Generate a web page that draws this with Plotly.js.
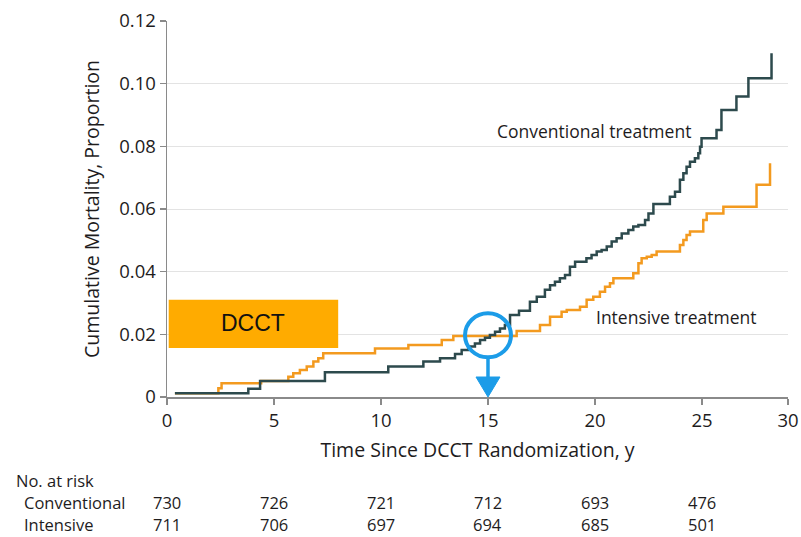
<!DOCTYPE html>
<html>
<head>
<meta charset="utf-8">
<script src="https://cdn.plot.ly/plotly-3.0.1.min.js"></script>
<style>html,body{margin:0;padding:0;background:#fff;}#chart{width:801px;height:537px;}</style>
</head>
<body>
<div id="chart"></div>
<script>
// Conventional treatment: step times (years) and cumulative mortality
const convTime = [0.37, 3.8, 4.35, 7.38, 10.34, 11.98, 12.76, 13.46, 13.77, 14.08, 14.39, 14.63, 14.86, 15.09, 15.33, 15.56, 15.79, 16.03, 16.45, 16.96, 17.28, 17.66, 17.9, 18.13, 18.36, 18.6, 18.83, 19.07, 19.6, 19.84, 20.08, 20.31, 20.55, 20.78, 21.01, 21.25, 21.56, 21.79, 22.03, 22.34, 22.5, 22.73, 23.5, 23.74, 23.97, 24.13, 24.28, 24.44, 24.67, 24.83, 24.91, 24.98, 25.68, 25.91, 26.61, 27.17, 28.25, 28.25];
const convValue = [0.0012, 0.0026, 0.0051, 0.0079, 0.0097, 0.0113, 0.0124, 0.0137, 0.0150, 0.0161, 0.0171, 0.0182, 0.0189, 0.0198, 0.0208, 0.0219, 0.0230, 0.0262, 0.0275, 0.0304, 0.0320, 0.0342, 0.0357, 0.0368, 0.0379, 0.0389, 0.0416, 0.0432, 0.0443, 0.0453, 0.0464, 0.0469, 0.0480, 0.0496, 0.0507, 0.0522, 0.0533, 0.0544, 0.0549, 0.0565, 0.0586, 0.0616, 0.0639, 0.0655, 0.0693, 0.0714, 0.0735, 0.0751, 0.0762, 0.0778, 0.0799, 0.0826, 0.0852, 0.0916, 0.0959, 0.1017, 0.1097, 0.1097];
// Intensive treatment
const intTime = [0.37, 2.4, 2.55, 4.4, 5.67, 5.9, 6.21, 6.53, 6.84, 7.07, 7.3, 9.72, 11.28, 12.84, 13.38, 16.34, 17.43, 17.9, 18.44, 18.68, 19.3, 19.61, 19.92, 20.23, 20.47, 20.7, 20.86, 21.79, 22.03, 22.18, 22.42, 22.65, 22.88, 23.97, 24.13, 24.28, 24.44, 25.06, 25.22, 26.0, 27.55, 28.18, 28.18];
const intValue = [0.0012, 0.0028, 0.0044, 0.0051, 0.0065, 0.0076, 0.0086, 0.0097, 0.0113, 0.0124, 0.0140, 0.0155, 0.0166, 0.0182, 0.0195, 0.0211, 0.0230, 0.0256, 0.0272, 0.0278, 0.0288, 0.0310, 0.0320, 0.0336, 0.0352, 0.0363, 0.0379, 0.0395, 0.0427, 0.0443, 0.0448, 0.0453, 0.0464, 0.0485, 0.0501, 0.0517, 0.0528, 0.0565, 0.0586, 0.0607, 0.0677, 0.0746, 0.0746];

// Axis ticks
const xTickVals = [0, 5, 10, 15, 20, 25, 29.02];
const xTickText = ['0', '5', '10', '15', '20', '25', '30'];
const yTickVals = [0, 0.02, 0.04, 0.06, 0.08, 0.10, 0.12];
const yTickText = ['0', '0.02', '0.04', '0.06', '0.08', '0.10', '0.12'];

// Number at risk table
const riskTimes = [0, 5, 10, 15, 20, 25];
const riskConv = [730, 726, 721, 712, 693, 476];
const riskInt = [711, 706, 697, 694, 685, 501];

const FONT = 'Open Sans, sans-serif';
const TXT = '#1e1c1d';
const DARK = '#2d4a4d';
const ORANGE = '#f39a1f';
const BLUE = '#1c9ce8';
const AXIS = '#8a8a8a';

const traces = [
  {x: intTime, y: intValue, type: 'scatter', mode: 'lines', line: {shape: 'hv', color: ORANGE, width: 2.5}, name: 'Intensive', hoverinfo: 'skip'},
  {x: convTime, y: convValue, type: 'scatter', mode: 'lines', line: {shape: 'hv', color: DARK, width: 2.5}, name: 'Conventional', hoverinfo: 'skip'}
];

const TBL = 16.5;
const ROW0 = -0.2234, ROW1 = -0.2819, ROW2 = -0.3404;
const annotations = [
  {text: 'Conventional treatment', x: 15.35, y: 0.0848, xref: 'x', yref: 'y', xanchor: 'left', yanchor: 'middle', showarrow: false, font: {family: FONT, size: 17.5, color: TXT}},
  {text: 'Intensive treatment', x: 19.95, y: 0.0255, xref: 'x', yref: 'y', xanchor: 'left', yanchor: 'middle', showarrow: false, font: {family: FONT, size: 17.5, color: TXT}},
  {text: 'DCCT', x: 4.0, y: 0.0235, xref: 'x', yref: 'y', xanchor: 'center', yanchor: 'middle', showarrow: false, font: {family: 'Liberation Sans, Arial, sans-serif', size: 23, color: '#111'}},
  {text: 'No. at risk', x: -0.2464, y: ROW0, xref: 'paper', yref: 'paper', xanchor: 'left', yanchor: 'middle', showarrow: false, font: {family: FONT, size: TBL, color: TXT}},
  {text: 'Conventional', x: -0.2335, y: ROW1, xref: 'paper', yref: 'paper', xanchor: 'left', yanchor: 'middle', showarrow: false, font: {family: FONT, size: TBL, color: TXT}},
  {text: 'Intensive', x: -0.2335, y: ROW2, xref: 'paper', yref: 'paper', xanchor: 'left', yanchor: 'middle', showarrow: false, font: {family: FONT, size: TBL, color: TXT}}
];
riskTimes.forEach((t, i) => {
  annotations.push({text: String(riskConv[i]), x: t, y: ROW1, xref: 'x', yref: 'paper', xanchor: 'center', yanchor: 'middle', showarrow: false, font: {family: FONT, size: TBL, color: TXT}});
  annotations.push({text: String(riskInt[i]), x: t, y: ROW2, xref: 'x', yref: 'paper', xanchor: 'center', yanchor: 'middle', showarrow: false, font: {family: FONT, size: TBL, color: TXT}});
});

const shapes = [
  // DCCT label box
  {type: 'rect', xref: 'x', yref: 'y', x0: 0.08, x1: 8.0, y0: 0.0156, y1: 0.031, fillcolor: '#ffab00', line: {width: 0}, layer: 'above'},
  // highlight circle at 15 years
  {type: 'circle', xref: 'x', yref: 'y', xsizemode: 'pixel', ysizemode: 'pixel', xanchor: 15, yanchor: 0.0197, x0: -23, x1: 23, y0: -22, y1: 22, line: {color: BLUE, width: 4}, layer: 'above'},
  // arrow stem
  {type: 'path', xref: 'x', yref: 'y', xsizemode: 'pixel', ysizemode: 'pixel', xanchor: 15, yanchor: 0, path: 'M 0 18 L 0 41', line: {color: BLUE, width: 3.5}, layer: 'above'},
  // arrow head
  {type: 'path', xref: 'x', yref: 'y', xsizemode: 'pixel', ysizemode: 'pixel', xanchor: 15, yanchor: 0, path: 'M 0 0 L -12 20 L 12 20 Z', fillcolor: BLUE, line: {color: BLUE, width: 1}, layer: 'above'}
];

const layout = {
  width: 801, height: 537,
  margin: {l: 167, r: 13, t: 21, b: 140, pad: 0},
  paper_bgcolor: '#fff', plot_bgcolor: '#fff',
  showlegend: false,
  font: {family: FONT, color: TXT},
  xaxis: {
    range: [0, 29.02], tickmode: 'array', tickvals: xTickVals, ticktext: xTickText,
    showline: true, linecolor: AXIS, linewidth: 1.5, ticks: 'outside', ticklen: 6, tickcolor: AXIS, tickwidth: 1.5,
    showgrid: false, zeroline: false,
    tickfont: {family: FONT, size: 18.5, color: TXT},
    title: {text: 'Time Since DCCT Randomization, y', font: {family: FONT, size: 19.5, color: TXT}, standoff: 12},
    automargin: false
  },
  yaxis: {
    range: [0, 0.12], tickmode: 'array', tickvals: yTickVals, ticktext: yTickText,
    showline: true, linecolor: AXIS, linewidth: 1.5, ticks: 'outside', ticklen: 6, tickcolor: AXIS, tickwidth: 1.5,
    showgrid: true, gridcolor: '#e3e3e3', gridwidth: 1, zeroline: false,
    tickfont: {family: FONT, size: 18.5, color: TXT},
    title: {text: 'Cumulative Mortality, Proportion', font: {family: FONT, size: 19.5, color: TXT}, standoff: 14},
    automargin: false
  },
  annotations: annotations,
  shapes: shapes
};

Plotly.newPlot('chart', traces, layout, {staticPlot: true, displayModeBar: false});
</script>
</body>
</html>
